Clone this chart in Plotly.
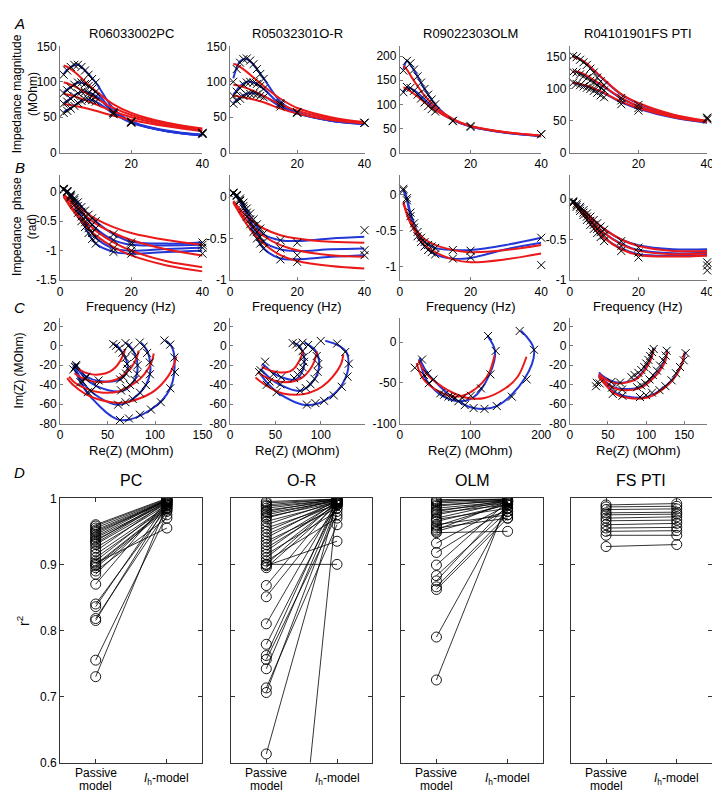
import numpy as np
import plotly.graph_objects as go

W, H = 720, 792
FONT = "Liberation Sans, Arial, sans-serif"
RED = "rgb(235,25,25)"
BLUE = "rgb(35,55,215)"
AXC = "#7a7a7a"

# ---------------- data ----------------
F_MODEL = [1, 2, 3, 5, 7, 10, 15, 20, 30, 40]
F_DATA = [1, 2, 3, 4, 5, 6, 7, 8, 9, 10, 15, 20, 40]

CELL_NAMES = ["R06033002PC", "R05032301O-R", "R09022303OLM", "R04101901FS PTI"]
GROUPS = ["PC", "O-R", "OLM", "FS PTI"]
D_XLABELS = [["Passive", "model"], ["<i>I</i><sub>h</sub>-model"]]

# Column 1 (PC)
C1_RED_MAG = [[123, 121, 118, 110, 100, 87, 68, 56, 42, 34],
              [99, 98, 96, 91, 85, 77, 63, 53, 41, 33],
              [83, 82, 81, 78, 74, 68, 58, 50, 39, 32],
              [68, 68, 67, 65, 63, 59, 52, 46, 37, 30]]
C1_RED_PH = [[-0.09, -0.18, -0.27, -0.43, -0.57, -0.74, -0.94, -1.08, -1.25, -1.35],
             [-0.08, -0.16, -0.24, -0.38, -0.5, -0.66, -0.86, -1.0, -1.18, -1.28],
             [-0.06, -0.12, -0.18, -0.3, -0.4, -0.54, -0.7, -0.82, -0.98, -1.08],
             [-0.05, -0.1, -0.15, -0.25, -0.34, -0.46, -0.6, -0.7, -0.82, -0.9]]
C1_BLUE_MAG = [[111, 117, 121, 124, 116, 99, 62, 44, 31, 25],
               [85, 89, 93, 99, 97, 86, 58, 43, 30, 25],
               [70, 73, 77, 84, 86, 80, 57, 43, 30, 24],
               [57, 60, 63, 70, 75, 72, 55, 42, 30, 24]]
C1_BLUE_PH = [[0.05, 0.0, -0.1, -0.36, -0.6, -0.88, -1.02, -1.05, -1.02, -1.0],
              [0.04, -0.01, -0.08, -0.3, -0.52, -0.78, -0.96, -1.0, -0.97, -0.95],
              [0.04, 0.0, -0.06, -0.24, -0.42, -0.62, -0.82, -0.9, -0.91, -0.9],
              [0.03, 0.0, -0.05, -0.18, -0.32, -0.5, -0.72, -0.85, -0.88, -0.86]]
C1_DATA_MAG = [[110, 116, 121, 124, 124, 121, 116, 110, 104, 99, 56, 43, 28],
               [84, 88, 92, 96, 99, 99, 97, 94, 90, 86, 57, 44, 27],
               [69, 72, 76, 80, 84, 86, 86, 84, 82, 79, 56, 43, 27],
               [56, 59, 62, 66, 70, 73, 75, 75, 74, 72, 54, 42, 26]]
C1_DATA_PH = [[0.05, 0.01, -0.1, -0.22, -0.36, -0.5, -0.6, -0.7, -0.8, -0.88, -1.02, -1.05, -1.05],
              [0.04, -0.01, -0.08, -0.18, -0.3, -0.42, -0.52, -0.62, -0.7, -0.78, -0.96, -1.0, -0.95],
              [0.04, 0.0, -0.06, -0.14, -0.24, -0.34, -0.42, -0.5, -0.56, -0.62, -0.82, -0.9, -0.9],
              [0.03, 0.0, -0.05, -0.11, -0.18, -0.26, -0.32, -0.39, -0.45, -0.5, -0.72, -0.86, -0.86]]

# Column 2 (O-R)
C2_RED_MAG = [[125, 124, 121, 114, 106, 94, 76, 63, 50, 43],
              [96, 95, 94, 91, 87, 80, 68, 59, 48, 42],
              [80, 80, 79, 77, 75, 71, 62, 55, 46, 41]]
C2_RED_PH = [[-0.07, -0.14, -0.21, -0.33, -0.44, -0.56, -0.7, -0.77, -0.83, -0.86],
             [-0.06, -0.12, -0.18, -0.28, -0.37, -0.47, -0.58, -0.64, -0.7, -0.72],
             [-0.05, -0.1, -0.15, -0.23, -0.3, -0.38, -0.46, -0.5, -0.54, -0.55]]
C2_BLUE_MAG = [[105, 120, 129, 132, 124, 105, 72, 57, 45, 41],
               [82, 88, 94, 100, 99, 90, 68, 56, 45, 41],
               [70, 74, 78, 83, 84, 80, 65, 55, 45, 40]]
C2_BLUE_PH = [[0.05, 0.0, -0.06, -0.22, -0.42, -0.62, -0.74, -0.75, -0.72, -0.7],
              [0.04, 0.0, -0.05, -0.19, -0.36, -0.54, -0.63, -0.65, -0.63, -0.62],
              [0.04, 0.02, -0.03, -0.16, -0.3, -0.45, -0.52, -0.53, -0.5, -0.48]]
C2_DATA_MAG = [[100, 118, 127, 132, 133, 130, 125, 118, 111, 104, 70, 57, 42],
               [80, 86, 91, 96, 99, 100, 99, 97, 94, 90, 68, 57, 42],
               [69, 73, 76, 80, 82, 83, 83, 82, 80, 78, 65, 56, 42]]
C2_DATA_PH = [[0.05, 0.02, -0.05, -0.14, -0.24, -0.33, -0.42, -0.5, -0.56, -0.62, -0.75, -0.78, -0.7],
              [0.04, 0.01, -0.04, -0.11, -0.19, -0.27, -0.35, -0.42, -0.48, -0.54, -0.62, -0.7, -0.64],
              [0.04, 0.02, -0.02, -0.07, -0.14, -0.2, -0.27, -0.33, -0.38, -0.44, -0.52, -0.55, -0.4]]

# Column 3 (OLM)
C3_RED_MAG = [[180, 172, 160, 138, 118, 95, 70, 55, 42, 35],
              [135, 132, 127, 116, 104, 88, 68, 55, 42, 35]]
C3_RED_PH = [[-0.1, -0.25, -0.36, -0.52, -0.62, -0.7, -0.77, -0.8, -0.77, -0.7],
             [-0.12, -0.28, -0.4, -0.57, -0.7, -0.8, -0.9, -0.94, -0.9, -0.82]]
C3_BLUE_MAG = [[172, 190, 182, 158, 132, 100, 68, 54, 41, 34],
               [124, 135, 133, 124, 110, 90, 67, 54, 41, 34]]
C3_BLUE_PH = [[0.08, -0.05, -0.25, -0.52, -0.66, -0.74, -0.77, -0.77, -0.7, -0.6],
              [0.06, -0.08, -0.3, -0.58, -0.72, -0.83, -0.89, -0.88, -0.76, -0.67]]
C3_DATA_MAG = [[170, 190, 185, 172, 158, 145, 132, 120, 110, 100, 66, 55, 38],
               [125, 136, 134, 128, 120, 112, 104, 96, 90, 85, 65, 53, 38]]
C3_DATA_PH = [[0.08, -0.05, -0.25, -0.4, -0.52, -0.6, -0.66, -0.7, -0.72, -0.74, -0.77, -0.78, -0.6],
              [0.06, -0.08, -0.3, -0.46, -0.58, -0.66, -0.72, -0.77, -0.8, -0.83, -0.89, -0.87, -0.98]]

# Column 4 (FS PTI)
C4_RED_MAG = [[150, 149, 147, 140, 130, 115, 92, 78, 60, 50],
              [128, 127, 126, 121, 114, 104, 86, 73, 58, 49],
              [110, 109, 108, 105, 101, 94, 80, 70, 56, 48]]
C4_RED_PH = [[-0.05, -0.1, -0.15, -0.25, -0.35, -0.48, -0.62, -0.69, -0.71, -0.7],
             [-0.04, -0.08, -0.13, -0.21, -0.3, -0.42, -0.56, -0.64, -0.68, -0.67],
             [-0.03, -0.07, -0.11, -0.18, -0.26, -0.37, -0.5, -0.58, -0.64, -0.64]]
C4_BLUE_MAG = [[151, 150, 147, 139, 129, 114, 91, 77, 59, 49],
               [127, 127, 125, 120, 113, 103, 85, 73, 57, 48],
               [109, 109, 107, 104, 100, 93, 79, 69, 55, 47]]
C4_BLUE_PH = [[-0.04, -0.09, -0.14, -0.25, -0.35, -0.48, -0.61, -0.68, -0.7, -0.69],
              [-0.03, -0.08, -0.12, -0.21, -0.3, -0.42, -0.55, -0.63, -0.67, -0.66],
              [-0.02, -0.06, -0.1, -0.18, -0.26, -0.37, -0.5, -0.57, -0.62, -0.62]]
C4_DATA_MAG = [[152, 150, 146, 142, 138, 132, 126, 118, 112, 106, 86, 75, 54],
               [127, 126, 123, 120, 117, 113, 110, 106, 102, 98, 82, 70, 52],
               [110, 108, 106, 104, 102, 100, 97, 94, 90, 87, 76, 66, 55]]
C4_DATA_PH = [[-0.05, -0.1, -0.15, -0.2, -0.26, -0.32, -0.37, -0.42, -0.47, -0.52, -0.64, -0.72, -0.88],
              [-0.04, -0.08, -0.12, -0.17, -0.22, -0.27, -0.32, -0.37, -0.41, -0.45, -0.58, -0.66, -0.82],
              [-0.03, -0.06, -0.1, -0.14, -0.18, -0.22, -0.26, -0.3, -0.34, -0.38, -0.52, -0.6, -0.78]]

# Panel D: r^2 of passive vs Ih model
PC_PASSIVE = [0.96, 0.958, 0.955, 0.952, 0.95, 0.948, 0.945, 0.942, 0.94, 0.937, 0.935, 0.932, 0.93, 0.925,
              0.92, 0.915, 0.91, 0.905, 0.902, 0.9, 0.898, 0.895, 0.89, 0.885, 0.87, 0.84, 0.836, 0.818,
              0.815, 0.755, 0.73]
PC_IH = [1.0, 0.999, 0.998, 0.997, 0.996, 0.995, 0.999, 0.998, 0.994, 0.993, 0.998, 0.996, 0.992, 0.99,
         0.995, 0.988, 0.986, 0.99, 0.955, 0.985, 0.984, 0.982, 0.97, 0.99, 0.996, 0.985, 0.993, 0.98,
         0.99, 0.975, 0.99]
OR_PASSIVE = [0.995, 0.993, 0.99, 0.988, 0.985, 0.982, 0.98, 0.978, 0.975, 0.972, 0.97, 0.965, 0.96, 0.955,
              0.95, 0.945, 0.94, 0.935, 0.93, 0.925, 0.92, 0.915, 0.91, 0.905, 0.9, 0.9, 0.898, 0.895,
              0.868, 0.851, 0.81, 0.779, 0.762, 0.756, 0.742, 0.713, 0.706, 0.613, -0.05]
OR_IH = [0.999, 0.998, 0.999, 0.997, 0.998, 0.996, 0.999, 0.995, 0.997, 0.994, 0.998, 0.993, 0.996, 0.99,
         0.995, 0.992, 0.997, 0.985, 0.994, 0.99, 0.996, 0.98, 0.993, 0.97, 0.9, 0.995, 0.935, 0.99,
         0.996, 0.985, 0.995, 0.99, 0.998, 0.975, 0.993, 0.96, 0.99, 0.995, 0.995]
OLM_PASSIVE = [0.998, 0.996, 0.995, 0.993, 0.99, 0.988, 0.985, 0.982, 0.98, 0.978, 0.975, 0.97, 0.968, 0.965,
               0.96, 0.958, 0.955, 0.952, 0.95, 0.948, 0.932, 0.918, 0.899, 0.883, 0.875, 0.866, 0.862,
               0.79, 0.725]
OLM_IH = [0.999, 0.998, 0.999, 0.997, 0.996, 0.998, 0.995, 0.993, 0.997, 0.99, 0.996, 0.994, 0.985, 0.99,
          0.975, 0.992, 0.97, 0.995, 0.98, 0.95, 0.99, 0.985, 0.995, 0.98, 0.99, 0.975, 0.97, 0.985, 0.995]
FS_PASSIVE = [0.99, 0.987, 0.983, 0.978, 0.975, 0.97, 0.966, 0.96, 0.955, 0.95, 0.944, 0.927]
FS_IH = [0.992, 0.988, 0.984, 0.979, 0.976, 0.972, 0.967, 0.962, 0.956, 0.951, 0.944, 0.93]

COLS = [
    (C1_RED_MAG, C1_RED_PH, C1_BLUE_MAG, C1_BLUE_PH, C1_DATA_MAG, C1_DATA_PH),
    (C2_RED_MAG, C2_RED_PH, C2_BLUE_MAG, C2_BLUE_PH, C2_DATA_MAG, C2_DATA_PH),
    (C3_RED_MAG, C3_RED_PH, C3_BLUE_MAG, C3_BLUE_PH, C3_DATA_MAG, C3_DATA_PH),
    (C4_RED_MAG, C4_RED_PH, C4_BLUE_MAG, C4_BLUE_PH, C4_DATA_MAG, C4_DATA_PH),
]
R2 = [(PC_PASSIVE, PC_IH), (OR_PASSIVE, OR_IH), (OLM_PASSIVE, OLM_IH), (FS_PASSIVE, FS_IH)]

# ---------------- axes setup ----------------
X_DOM = [(50, 195), (223, 360), (396, 540), (569, 709)]
X_DOM_D = [(50, 195), (224, 368), (397, 542), (570, 714)]
ROW_Y = [(32, 140), (163, 270), (308, 416), (492, 761)]

A_YT = [[0, 50, 100, 150], [0, 50, 100, 150], [0, 50, 100, 150, 200], [0, 50, 100, 150]]
A_YR = [[0, 150], [0, 150], [0, 220], [0, 167]]
B_YT = [[0, -0.5, -1, -1.5], [0, -0.5, -1], [0, -0.5, -1], [0, -0.5, -1]]
B_YR = [[-1.5, 0.28], [-1, 0.26], [-1.19, 0.27], [-1, 0.29]]
C_YT = [[20, 0, -20, -40, -60, -80], [20, 0, -20, -40, -60, -80], [0, -50, -100], [20, 0, -20, -40, -60, -80]]
C_YR = [[-80, 29], [-80, 29], [-100, 30], [-80, 29]]
C_XT = [[0, 50, 100, 150], [0, 50, 100, 150], [0, 100, 200], [0, 50, 100, 150]]
C_XR = [[0, 150], [0, 148], [0, 200], [0, 180]]
D_YT = [0.6, 0.7, 0.8, 0.9, 1]
D_XR = [0.5, 2.5]


def xdom(a, b):
    return [a / W, b / W]


def ydom(t, b):
    return [1 - b / H, 1 - t / H]


def fmt(v):
    return f"{v:g}"


tickfont = dict(family=FONT, size=12, color="black")
base = dict(showline=True, linecolor=AXC, linewidth=1, ticks="inside", ticklen=3, tickcolor=AXC,
            showgrid=False, zeroline=False, tickfont=tickfont, fixedrange=True)

layout = {}
fig = go.Figure()


def names(n):
    s = "" if n == 1 else str(n)
    return "xaxis" + s, "yaxis" + s, "x" + s, "y" + s


for c in range(4):
    for r in range(4):
        n = r * 4 + c + 1
        xa, ya, xr, yr = names(n)
        xd = xdom(*X_DOM[c]) if r < 3 else xdom(*X_DOM_D[c])
        yd = ydom(*ROW_Y[r])
        xcfg = dict(base, domain=xd, anchor=yr)
        ycfg = dict(base, domain=yd, anchor=xr)
        if r == 0:
            xcfg.update(range=[0, 40], tickvals=[20, 40], ticktext=["20", "40"])
            ycfg.update(range=A_YR[c], tickvals=A_YT[c], ticktext=[fmt(v) for v in A_YT[c]])
        elif r == 1:
            xcfg.update(range=[0, 40], tickvals=[0, 20, 40], ticktext=["0", "20", "40"])
            ycfg.update(range=B_YR[c], tickvals=B_YT[c], ticktext=[fmt(v) for v in B_YT[c]])
        elif r == 2:
            xcfg.update(range=C_XR[c], tickvals=C_XT[c], ticktext=[fmt(v) for v in C_XT[c]])
            ycfg.update(range=C_YR[c], tickvals=C_YT[c], ticktext=[fmt(v) for v in C_YT[c]])
        else:
            dcol = "#333333"
            xcfg.update(range=D_XR, tickvals=[1, 2], showticklabels=False,
                        mirror="ticks", linecolor=dcol, tickcolor=dcol, ticklen=4)
            ycfg.update(range=[0.6, 1.0], tickvals=D_YT, ticktext=[fmt(v) for v in D_YT],
                        mirror="ticks", linecolor=dcol, tickcolor=dcol, ticklen=4,
                        showticklabels=(c == 0))
        layout[xa] = xcfg
        layout[ya] = ycfg

line_w = 2.0
xmark = dict(symbol="x-thin", size=8, color="black", line=dict(width=1, color="black"))


def nyq(mag, ph):
    m = np.array(mag, dtype=float)
    p = np.array(ph, dtype=float)
    return list(m * np.cos(p)), list(m * np.sin(p))


for c, (rm, rp, bm, bp, dm, dp) in enumerate(COLS):
    ntr = len(rm)
    for r in range(3):
        n = r * 4 + c + 1
        _, _, xr, yr = names(n)
        for mags, phs, col in ((bm, bp, BLUE), (rm, rp, RED)):
            for i in range(ntr):
                if r == 0:
                    x, y = F_MODEL, mags[i]
                elif r == 1:
                    x, y = F_MODEL, phs[i]
                else:
                    x, y = nyq(mags[i], phs[i])
                fig.add_trace(go.Scatter(x=x, y=y, mode="lines",
                                         line=dict(color=col, width=line_w, shape="spline"),
                                         xaxis=xr, yaxis=yr, hoverinfo="skip"))
        for i in range(ntr):
            if r == 0:
                x, y = F_DATA, dm[i]
            elif r == 1:
                x, y = F_DATA, dp[i]
            else:
                x, y = nyq(dm[i], dp[i])
            fig.add_trace(go.Scatter(x=x, y=y, mode="markers", marker=xmark, xaxis=xr, yaxis=yr,
                                     hoverinfo="skip", cliponaxis=False))

# Panel D
for c, (pas, ih) in enumerate(R2):
    n = 12 + c + 1
    _, _, xr, yr = names(n)
    xs, ys = [], []
    for p, q in zip(pas, ih):
        xs += [1, 2, None]
        ys += [p, q, None]
    fig.add_trace(go.Scatter(x=xs, y=ys, mode="lines+markers",
                             line=dict(color="black", width=0.8),
                             marker=dict(symbol="circle-open", size=10, color="black", line=dict(width=0.9)),
                             xaxis=xr, yaxis=yr, hoverinfo="skip", cliponaxis=True))

# ---------------- annotations ----------------
ann = []


def A(text, xpx, ypx, size=13, angle=0, xanchor="center"):
    ann.append(dict(text=text, x=xpx / W, y=1 - ypx / H, xref="paper", yref="paper", showarrow=False,
                    font=dict(family=FONT, size=size, color="black"), textangle=angle,
                    xanchor=xanchor, yanchor="middle"))


for c in range(4):
    cx = (X_DOM[c][0] + X_DOM[c][1]) / 2
    A(CELL_NAMES[c], cx, 19, 13)
    A("Frequency (Hz)", cx, 297, 13)
    A("Re(Z) (MOhm)", cx, 443, 13)
    d0, d1 = X_DOM_D[c]
    A(GROUPS[c], (d0 + d1) / 2, 474, 16)
    for k, lines in enumerate(D_XLABELS):
        xv = k + 1
        xpx = d0 + (xv - D_XR[0]) / (D_XR[1] - D_XR[0]) * (d1 - d0)
        if len(lines) == 2:
            A(lines[0], xpx, 772, 12)
            A(lines[1], xpx, 785, 12)
        else:
            A(lines[0], xpx, 778, 12)

A("<i>A</i>", 9, 9, 15)
A("<i>B</i>", 9, 155, 15)
A("<i>C</i>", 9, 298, 15)
A("<i>D</i>", 9, 466, 15)
A("Impedance magnitude<br>(MOhm)", 14, 80, 12, -90)
A("Impedance  phase<br>(rad)", 14, 215, 12, -90)
A("Im(Z) (MOhm)", 8, 362, 12, -90)
A("r<sup>2</sup>", 12, 617, 14, -90)

fig.update_layout(width=W, height=H, margin=dict(l=0, r=0, t=0, b=0), showlegend=False,
                  paper_bgcolor="white", plot_bgcolor="white", annotations=ann,
                  font=dict(family=FONT, size=12, color="black"), **layout)

fig.write_html("out.html")
